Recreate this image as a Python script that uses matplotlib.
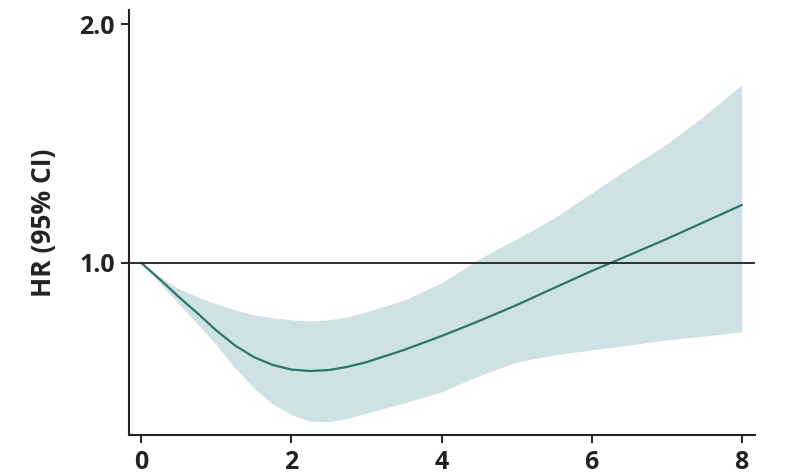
import matplotlib
matplotlib.use("Agg")
import matplotlib.pyplot as plt
from matplotlib.ticker import FixedLocator, FixedFormatter, NullLocator

# exposure values and hazard ratios
x = [0, 0.25, 0.5, 0.75, 1.0, 1.25, 1.5, 1.75, 2.0, 2.25, 2.5, 2.75,
     3.0, 3.5, 4.0, 4.5, 5.0, 5.5, 6.0, 6.5, 7.0, 7.5, 8.0]
hr = [1.000, 0.953, 0.906, 0.864, 0.822, 0.787, 0.761, 0.744, 0.734, 0.731,
      0.733, 0.740, 0.750, 0.777, 0.809, 0.845, 0.885, 0.930, 0.977, 1.023,
      1.072, 1.126, 1.183]
ci_upper = [1.000, 0.960, 0.928, 0.906, 0.888, 0.873, 0.860, 0.853, 0.848,
            0.845, 0.848, 0.855, 0.868, 0.898, 0.944, 1.012, 1.072, 1.139,
            1.225, 1.317, 1.412, 1.532, 1.676]
ci_lower = [1.000, 0.943, 0.888, 0.838, 0.788, 0.737, 0.696, 0.664, 0.644,
            0.632, 0.631, 0.637, 0.647, 0.666, 0.688, 0.721, 0.750, 0.766,
            0.777, 0.788, 0.800, 0.809, 0.819]

x_ticks = [0, 2, 4, 6, 8]
y_ticks = [1.0, 2.0]
y_tick_labels = ["1.0", "2.0"]

plt.rcParams['font.family'] = ['Open Sans', 'DejaVu Sans']

fig = plt.figure(figsize=(8, 4.76), dpi=100)
ax = fig.add_axes([0.161, 0.086, 0.783, 0.893])

ax.fill_between(x, ci_lower, ci_upper, color="#cfe2e3", linewidth=0)
ax.plot(x, hr, color="#2c746e", linewidth=1.6)
ax.axhline(1.0, color="#2a2f2f", linewidth=1.4)

ax.set_yscale("log", base=2)
ax.set_ylim(0.607, 2.083)
ax.set_xlim(-0.167, 8.18)

ax.yaxis.set_major_locator(FixedLocator(y_ticks))
ax.yaxis.set_major_formatter(FixedFormatter(y_tick_labels))
ax.yaxis.set_minor_locator(NullLocator())
ax.set_xticks(x_ticks)

for side in ["top", "right"]:
    ax.spines[side].set_visible(False)
for side in ["left", "bottom"]:
    ax.spines[side].set_linewidth(1.5)
    ax.spines[side].set_color("#222222")

ax.tick_params(axis="both", length=6, width=1.4, color="#222222",
               labelsize=18, labelcolor="#222222")
ax.tick_params(axis="x", pad=5)
ax.tick_params(axis="y", pad=4)
for lab in ax.get_xticklabels() + ax.get_yticklabels():
    lab.set_fontweight("bold")

ax.set_ylabel("HR (95% CI)", fontsize=19, fontweight="bold", color="#222222",
              labelpad=16)

fig.savefig("out.png", dpi=100)
